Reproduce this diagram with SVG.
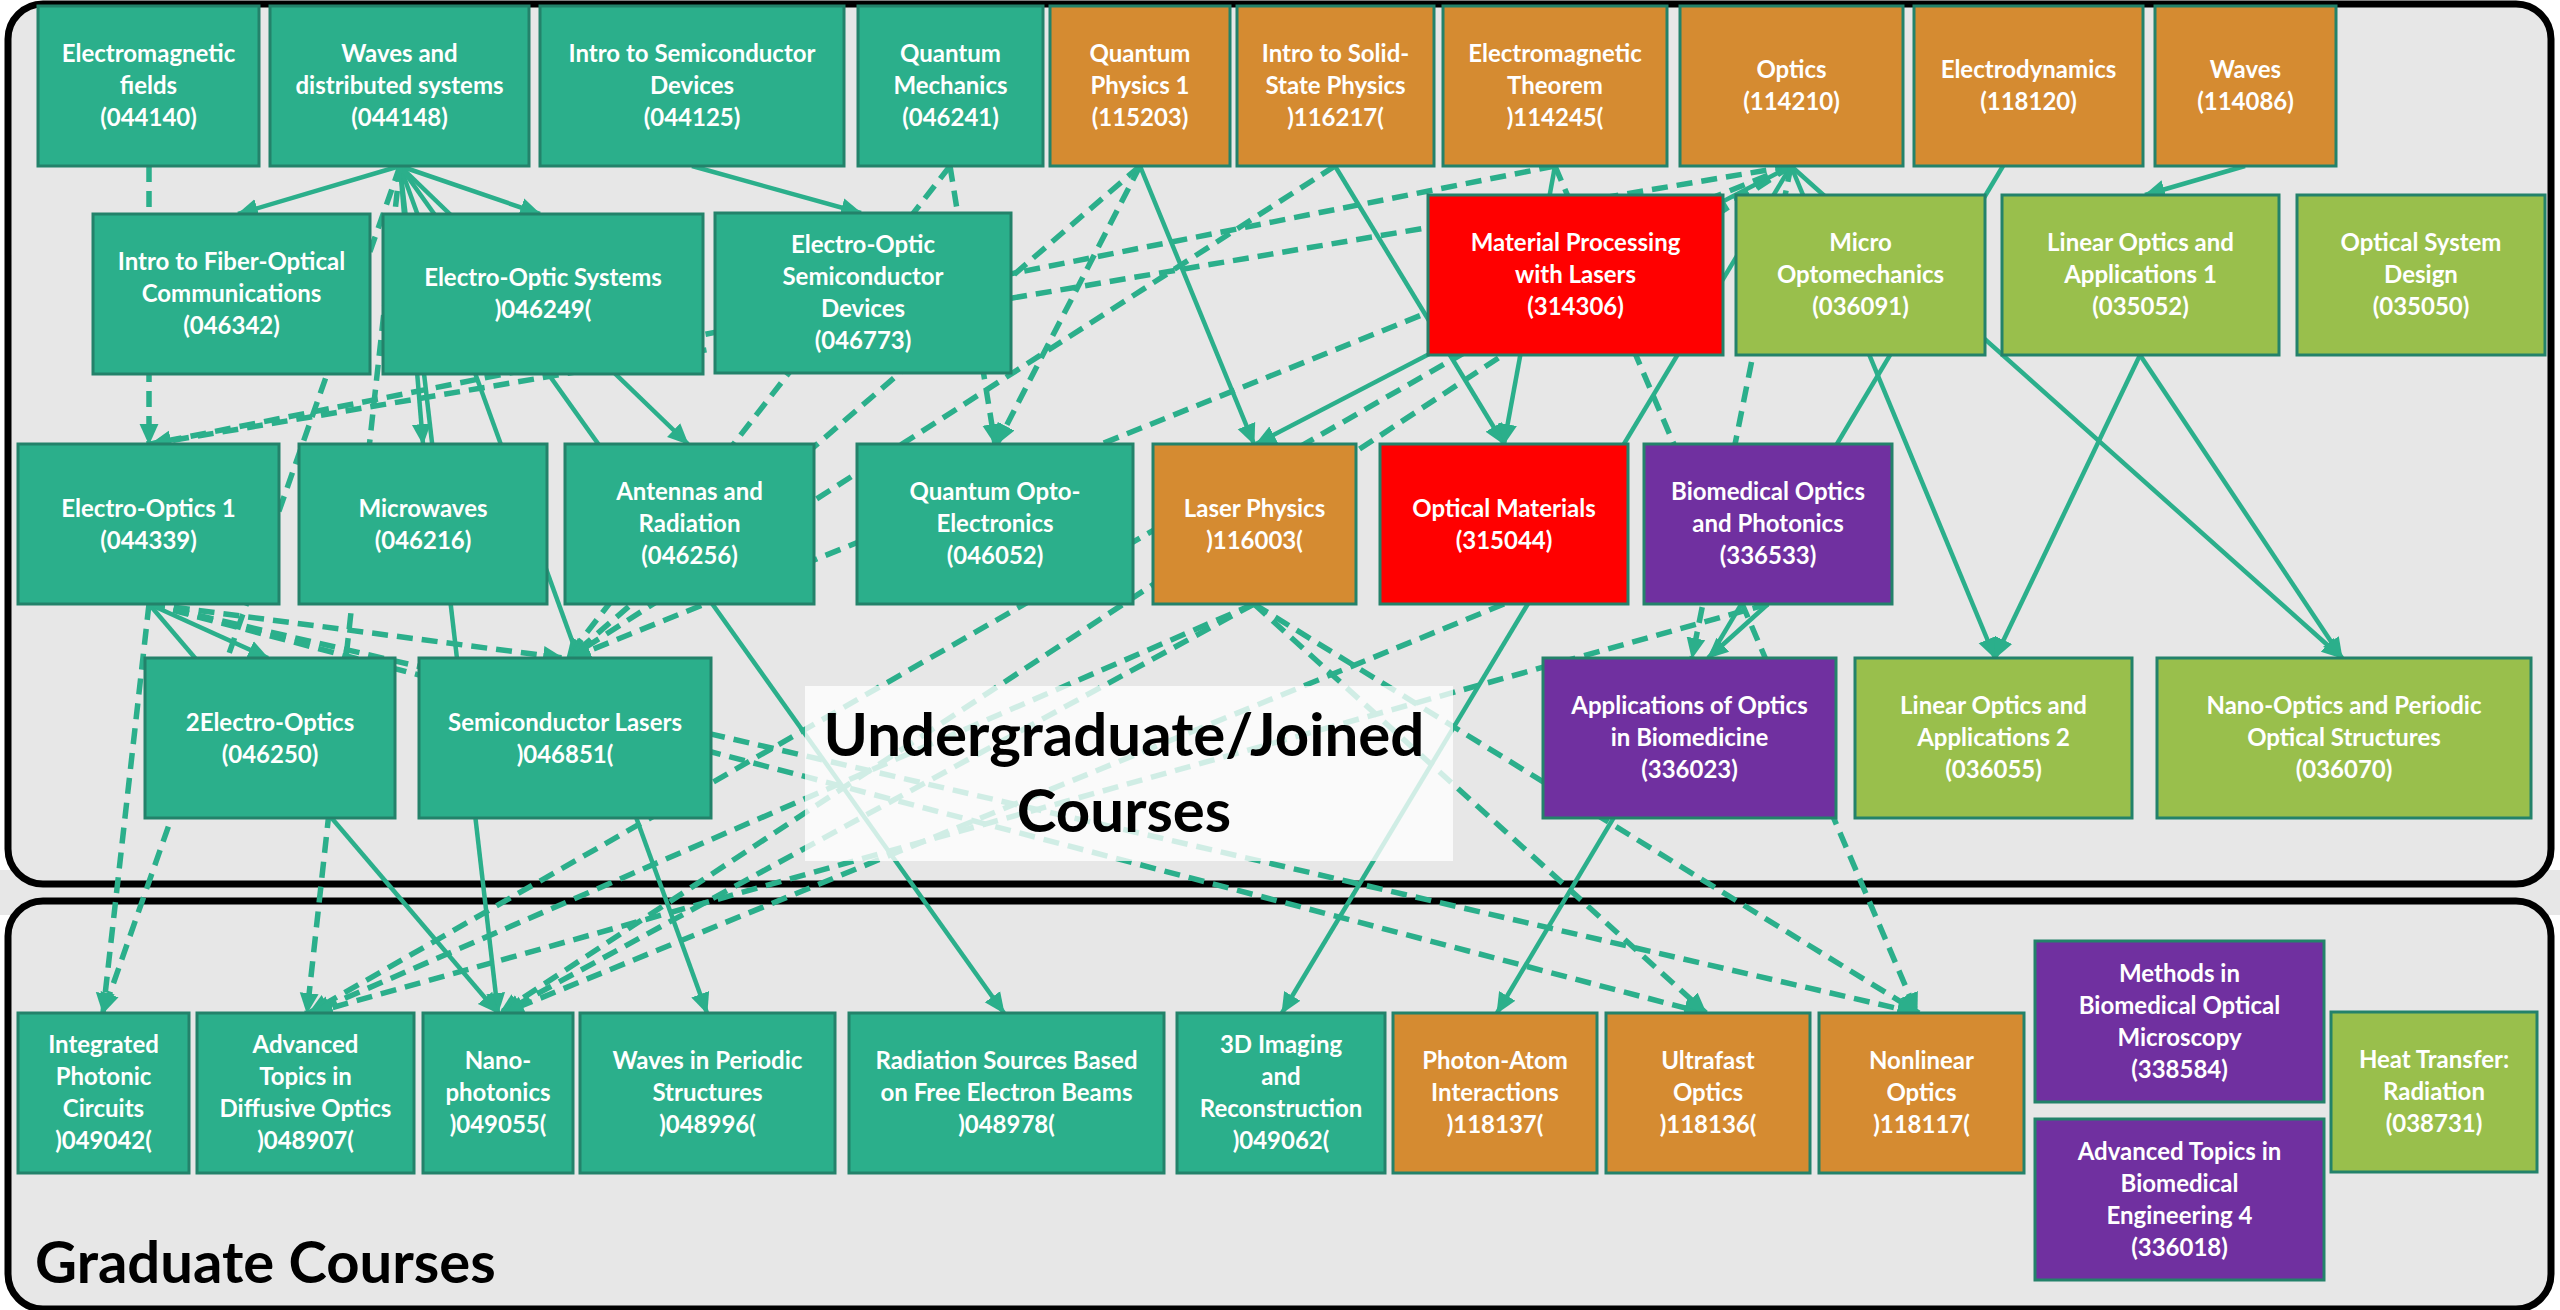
<svg xmlns="http://www.w3.org/2000/svg" width="2560" height="1310" viewBox="0 0 2560 1310">
<defs>
<style>
.bg{fill:#E7E7E7;stroke:#000;stroke-width:7}
.n{stroke:#23826A;stroke-width:3}
.teal{fill:#2BAF8B}.org{fill:#D58B31}.red{fill:#FF0000}.pur{fill:#7030A0}.grn{fill:#99BF4C}
.t{font-family:Lato,"Liberation Sans",sans-serif;font-weight:700;font-size:24px;fill:#FFFFFF;text-anchor:middle}
.h{font-family:Lato,"Liberation Sans",sans-serif;font-weight:700;fill:#000000}
.s{stroke:#2BAF8B;stroke-width:4.5;fill:none;marker-end:url(#a)}
.d{stroke:#2BAF8B;stroke-width:5.5;fill:none;stroke-dasharray:16 9;marker-end:url(#a)}
</style>
<marker id="a" viewBox="0 0 20 20" refX="19" refY="10" markerWidth="21" markerHeight="21" markerUnits="userSpaceOnUse" orient="auto">
<path d="M0,1 L20,10 L0,19 Z" fill="#2BAF8B"/>
</marker>
</defs>
<rect x="0" y="0" width="2560" height="1310" fill="#FFFFFF"/>
<rect x="0" y="870" width="2560" height="45" fill="#E7E7E7"/>
<g id="areas">
<rect class="bg" x="8" y="4" width="2543" height="880" rx="35"/>
<rect class="bg" x="8" y="901" width="2543" height="408" rx="35"/>
</g>
<g id="connectors">
<line class="s" x1="400" y1="166" x2="238" y2="214"/>
<line class="s" x1="400" y1="166" x2="540" y2="214"/>
<line class="s" x1="400" y1="166" x2="423" y2="444"/>
<line class="s" x1="400" y1="166" x2="688" y2="444"/>
<line class="s" x1="400" y1="166" x2="498" y2="1013"/>
<line class="s" x1="400" y1="166" x2="707" y2="1013"/>
<line class="s" x1="400" y1="166" x2="1004" y2="1013"/>
<line class="s" x1="692" y1="166" x2="861" y2="213"/>
<line class="s" x1="1140" y1="166" x2="1254" y2="444"/>
<line class="s" x1="1335" y1="166" x2="1504" y2="444"/>
<line class="s" x1="1555" y1="166" x2="1504" y2="444"/>
<line class="s" x1="1791" y1="166" x2="1256" y2="444"/>
<line class="s" x1="1791" y1="166" x2="2342" y2="658"/>
<line class="s" x1="1791" y1="166" x2="1282" y2="1013"/>
<line class="s" x1="1791" y1="166" x2="1995" y2="658"/>
<line class="s" x1="2003" y1="166" x2="1497" y2="1013"/>
<line class="s" x1="2245" y1="166" x2="2145" y2="195"/>
<line class="s" x1="2140" y1="355" x2="1995" y2="658"/>
<line class="s" x1="2140" y1="355" x2="2342" y2="658"/>
<line class="s" x1="149" y1="604" x2="268" y2="658"/>
<line class="s" x1="149" y1="604" x2="498" y2="1013"/>
<line class="s" x1="1768" y1="604" x2="1708" y2="658"/>
<line class="d" x1="149" y1="166" x2="149" y2="444"/>
<line class="d" x1="400" y1="166" x2="103" y2="1013"/>
<line class="d" x1="400" y1="166" x2="307" y2="1013"/>
<line class="d" x1="950" y1="166" x2="995" y2="444"/>
<line class="d" x1="950" y1="166" x2="567" y2="658"/>
<line class="d" x1="1140" y1="166" x2="997" y2="444"/>
<line class="d" x1="1140" y1="166" x2="569" y2="658"/>
<line class="d" x1="1335" y1="166" x2="569" y2="658"/>
<line class="d" x1="1555" y1="166" x2="151" y2="444"/>
<line class="d" x1="1555" y1="166" x2="1917" y2="1013"/>
<line class="d" x1="1791" y1="166" x2="151" y2="444"/>
<line class="d" x1="1791" y1="166" x2="571" y2="658"/>
<line class="d" x1="1791" y1="166" x2="309" y2="1013"/>
<line class="d" x1="1791" y1="166" x2="500" y2="1013"/>
<line class="d" x1="1791" y1="166" x2="1692" y2="658"/>
<line class="d" x1="149" y1="604" x2="563" y2="658"/>
<line class="d" x1="149" y1="604" x2="103" y2="1013"/>
<line class="d" x1="149" y1="604" x2="1704" y2="1013"/>
<line class="d" x1="149" y1="604" x2="1917" y2="1013"/>
<line class="d" x1="1254" y1="604" x2="1706" y2="1013"/>
<line class="d" x1="1254" y1="604" x2="1919" y2="1013"/>
<line class="d" x1="1254" y1="604" x2="311" y2="1013"/>
<line class="d" x1="1254" y1="604" x2="502" y2="1013"/>
<line class="d" x1="1768" y1="604" x2="313" y2="1013"/>
<line class="d" x1="1504" y1="604" x2="504" y2="1013"/>
</g>
<g id="label-undergrad">
<rect x="805" y="686" width="648" height="175" fill="#FFFFFF" fill-opacity="0.78"/>
<text class="h" x="1124" y="756" font-size="60" text-anchor="middle">Undergraduate/Joined</text>
<text class="h" x="1124" y="832" font-size="60" text-anchor="middle">Courses</text>
</g>
<g id="label-grad">
<text class="h" x="35" y="1283" font-size="58">Graduate Courses</text>
</g>
<g id="n044140"><rect class="n teal" x="38" y="6" width="221" height="160"/><text class="t"><tspan x="148.5" y="62">Electromagnetic</tspan><tspan x="148.5" y="94">fields</tspan><tspan x="148.5" y="126">(044140)</tspan></text></g>
<g id="n044148"><rect class="n teal" x="270" y="6" width="259" height="160"/><text class="t"><tspan x="399.5" y="62">Waves and</tspan><tspan x="399.5" y="94">distributed systems</tspan><tspan x="399.5" y="126">(044148)</tspan></text></g>
<g id="n044125"><rect class="n teal" x="540" y="6" width="304" height="160"/><text class="t"><tspan x="692" y="62">Intro to Semiconductor</tspan><tspan x="692" y="94">Devices</tspan><tspan x="692" y="126">(044125)</tspan></text></g>
<g id="n046241"><rect class="n teal" x="858" y="6" width="185" height="160"/><text class="t"><tspan x="950.5" y="62">Quantum</tspan><tspan x="950.5" y="94">Mechanics</tspan><tspan x="950.5" y="126">(046241)</tspan></text></g>
<g id="n115203"><rect class="n org" x="1050" y="6" width="180" height="160"/><text class="t"><tspan x="1140" y="62">Quantum</tspan><tspan x="1140" y="94">Physics 1</tspan><tspan x="1140" y="126">(115203)</tspan></text></g>
<g id="n116217"><rect class="n org" x="1237" y="6" width="197" height="160"/><text class="t"><tspan x="1335.5" y="62">Intro to Solid-</tspan><tspan x="1335.5" y="94">State Physics</tspan><tspan x="1335.5" y="126">)116217(</tspan></text></g>
<g id="n114245"><rect class="n org" x="1443" y="6" width="224" height="160"/><text class="t"><tspan x="1555" y="62">Electromagnetic</tspan><tspan x="1555" y="94">Theorem</tspan><tspan x="1555" y="126">)114245(</tspan></text></g>
<g id="n114210"><rect class="n org" x="1680" y="6" width="223" height="160"/><text class="t"><tspan x="1791.5" y="78">Optics</tspan><tspan x="1791.5" y="110">(114210)</tspan></text></g>
<g id="n118120"><rect class="n org" x="1914" y="6" width="229" height="160"/><text class="t"><tspan x="2028.5" y="78">Electrodynamics</tspan><tspan x="2028.5" y="110">(118120)</tspan></text></g>
<g id="n114086"><rect class="n org" x="2155" y="6" width="181" height="160"/><text class="t"><tspan x="2245.5" y="78">Waves</tspan><tspan x="2245.5" y="110">(114086)</tspan></text></g>
<g id="n046342"><rect class="n teal" x="93" y="214" width="277" height="160"/><text class="t"><tspan x="231.5" y="270">Intro to Fiber-Optical</tspan><tspan x="231.5" y="302">Communications</tspan><tspan x="231.5" y="334">(046342)</tspan></text></g>
<g id="n046249"><rect class="n teal" x="383" y="214" width="320" height="160"/><text class="t"><tspan x="543" y="286">Electro-Optic Systems</tspan><tspan x="543" y="318">)046249(</tspan></text></g>
<g id="n046773"><rect class="n teal" x="715" y="213" width="296" height="160"/><text class="t"><tspan x="863" y="253">Electro-Optic</tspan><tspan x="863" y="285">Semiconductor</tspan><tspan x="863" y="317">Devices</tspan><tspan x="863" y="349">(046773)</tspan></text></g>
<g id="n314306"><rect class="n red" x="1428" y="195" width="295" height="160"/><text class="t"><tspan x="1575.5" y="251">Material Processing</tspan><tspan x="1575.5" y="283">with Lasers</tspan><tspan x="1575.5" y="315">(314306)</tspan></text></g>
<g id="n036091"><rect class="n grn" x="1736" y="195" width="249" height="160"/><text class="t"><tspan x="1860.5" y="251">Micro</tspan><tspan x="1860.5" y="283">Optomechanics</tspan><tspan x="1860.5" y="315">(036091)</tspan></text></g>
<g id="n035052"><rect class="n grn" x="2002" y="195" width="277" height="160"/><text class="t"><tspan x="2140.5" y="251">Linear Optics and</tspan><tspan x="2140.5" y="283">Applications 1</tspan><tspan x="2140.5" y="315">(035052)</tspan></text></g>
<g id="n035050"><rect class="n grn" x="2297" y="195" width="248" height="160"/><text class="t"><tspan x="2421" y="251">Optical System</tspan><tspan x="2421" y="283">Design</tspan><tspan x="2421" y="315">(035050)</tspan></text></g>
<g id="n044339"><rect class="n teal" x="18" y="444" width="261" height="160"/><text class="t"><tspan x="148.5" y="517">Electro-Optics 1</tspan><tspan x="148.5" y="549">(044339)</tspan></text></g>
<g id="n046216"><rect class="n teal" x="299" y="444" width="248" height="160"/><text class="t"><tspan x="423" y="517">Microwaves</tspan><tspan x="423" y="549">(046216)</tspan></text></g>
<g id="n046256"><rect class="n teal" x="565" y="444" width="249" height="160"/><text class="t"><tspan x="689.5" y="500">Antennas and</tspan><tspan x="689.5" y="532">Radiation</tspan><tspan x="689.5" y="564">(046256)</tspan></text></g>
<g id="n046052"><rect class="n teal" x="857" y="444" width="276" height="160"/><text class="t"><tspan x="995" y="500">Quantum Opto-</tspan><tspan x="995" y="532">Electronics</tspan><tspan x="995" y="564">(046052)</tspan></text></g>
<g id="n116003"><rect class="n org" x="1153" y="444" width="203" height="160"/><text class="t"><tspan x="1254.5" y="517">Laser Physics</tspan><tspan x="1254.5" y="549">)116003(</tspan></text></g>
<g id="n315044"><rect class="n red" x="1380" y="444" width="248" height="160"/><text class="t"><tspan x="1504" y="517">Optical Materials</tspan><tspan x="1504" y="549">(315044)</tspan></text></g>
<g id="n336533"><rect class="n pur" x="1644" y="444" width="248" height="160"/><text class="t"><tspan x="1768" y="500">Biomedical Optics</tspan><tspan x="1768" y="532">and Photonics</tspan><tspan x="1768" y="564">(336533)</tspan></text></g>
<g id="n046250"><rect class="n teal" x="145" y="658" width="250" height="160"/><text class="t"><tspan x="270" y="731">2Electro-Optics</tspan><tspan x="270" y="763">(046250)</tspan></text></g>
<g id="n046851"><rect class="n teal" x="419" y="658" width="292" height="160"/><text class="t"><tspan x="565" y="731">Semiconductor Lasers</tspan><tspan x="565" y="763">)046851(</tspan></text></g>
<g id="n336023"><rect class="n pur" x="1543" y="658" width="293" height="160"/><text class="t"><tspan x="1689.5" y="714">Applications of Optics</tspan><tspan x="1689.5" y="746">in Biomedicine</tspan><tspan x="1689.5" y="778">(336023)</tspan></text></g>
<g id="n036055"><rect class="n grn" x="1855" y="658" width="277" height="160"/><text class="t"><tspan x="1993.5" y="714">Linear Optics and</tspan><tspan x="1993.5" y="746">Applications 2</tspan><tspan x="1993.5" y="778">(036055)</tspan></text></g>
<g id="n036070"><rect class="n grn" x="2157" y="658" width="374" height="160"/><text class="t"><tspan x="2344" y="714">Nano-Optics and Periodic</tspan><tspan x="2344" y="746">Optical Structures</tspan><tspan x="2344" y="778">(036070)</tspan></text></g>
<g id="n049042"><rect class="n teal" x="18" y="1013" width="171" height="160"/><text class="t"><tspan x="103.5" y="1053">Integrated</tspan><tspan x="103.5" y="1085">Photonic</tspan><tspan x="103.5" y="1117">Circuits</tspan><tspan x="103.5" y="1149">)049042(</tspan></text></g>
<g id="n048907"><rect class="n teal" x="197" y="1013" width="217" height="160"/><text class="t"><tspan x="305.5" y="1053">Advanced</tspan><tspan x="305.5" y="1085">Topics in</tspan><tspan x="305.5" y="1117">Diffusive Optics</tspan><tspan x="305.5" y="1149">)048907(</tspan></text></g>
<g id="n049055"><rect class="n teal" x="423" y="1013" width="150" height="160"/><text class="t"><tspan x="498" y="1069">Nano-</tspan><tspan x="498" y="1101">photonics</tspan><tspan x="498" y="1133">)049055(</tspan></text></g>
<g id="n048996"><rect class="n teal" x="580" y="1013" width="255" height="160"/><text class="t"><tspan x="707.5" y="1069">Waves in Periodic</tspan><tspan x="707.5" y="1101">Structures</tspan><tspan x="707.5" y="1133">)048996(</tspan></text></g>
<g id="n048978"><rect class="n teal" x="849" y="1013" width="315" height="160"/><text class="t"><tspan x="1006.5" y="1069">Radiation Sources Based</tspan><tspan x="1006.5" y="1101">on Free Electron Beams</tspan><tspan x="1006.5" y="1133">)048978(</tspan></text></g>
<g id="n049062"><rect class="n teal" x="1177" y="1013" width="208" height="160"/><text class="t"><tspan x="1281" y="1053">3D Imaging</tspan><tspan x="1281" y="1085">and</tspan><tspan x="1281" y="1117">Reconstruction</tspan><tspan x="1281" y="1149">)049062(</tspan></text></g>
<g id="n118137"><rect class="n org" x="1393" y="1013" width="204" height="160"/><text class="t"><tspan x="1495" y="1069">Photon-Atom</tspan><tspan x="1495" y="1101">Interactions</tspan><tspan x="1495" y="1133">)118137(</tspan></text></g>
<g id="n118136"><rect class="n org" x="1606" y="1013" width="204" height="160"/><text class="t"><tspan x="1708" y="1069">Ultrafast</tspan><tspan x="1708" y="1101">Optics</tspan><tspan x="1708" y="1133">)118136(</tspan></text></g>
<g id="n118117"><rect class="n org" x="1819" y="1013" width="205" height="160"/><text class="t"><tspan x="1921.5" y="1069">Nonlinear</tspan><tspan x="1921.5" y="1101">Optics</tspan><tspan x="1921.5" y="1133">)118117(</tspan></text></g>
<g id="n338584"><rect class="n pur" x="2035" y="941" width="289" height="161"/><text class="t"><tspan x="2179.5" y="982">Methods in</tspan><tspan x="2179.5" y="1014">Biomedical Optical</tspan><tspan x="2179.5" y="1046">Microscopy</tspan><tspan x="2179.5" y="1078">(338584)</tspan></text></g>
<g id="n336018"><rect class="n pur" x="2035" y="1119" width="289" height="161"/><text class="t"><tspan x="2179.5" y="1160">Advanced Topics in</tspan><tspan x="2179.5" y="1192">Biomedical</tspan><tspan x="2179.5" y="1224">Engineering 4</tspan><tspan x="2179.5" y="1256">(336018)</tspan></text></g>
<g id="n038731"><rect class="n grn" x="2331" y="1012" width="206" height="160"/><text class="t"><tspan x="2434" y="1068">Heat Transfer:</tspan><tspan x="2434" y="1100">Radiation</tspan><tspan x="2434" y="1132">(038731)</tspan></text></g>
</svg>
